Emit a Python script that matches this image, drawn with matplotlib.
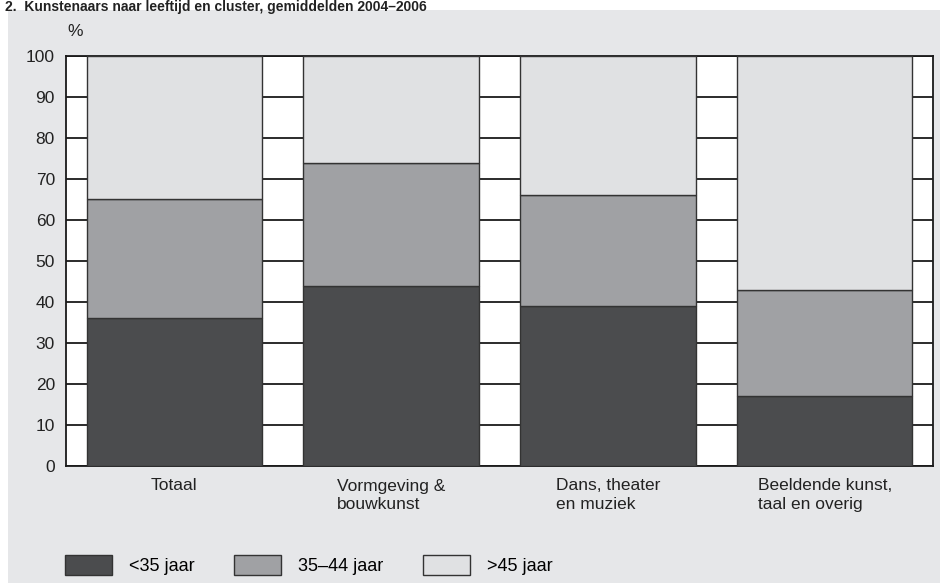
import matplotlib.pyplot as plt
import matplotlib.patches as mpatches
import numpy as np

clusters = ["Totaal", "Vormgeving &\nbouwkunst", "Dans, theater\nen muziek", "Beeldende kunst,\ntaal en overig"]
under_35 = [36, 44, 39, 17]
age_35_44 = [29, 30, 27, 26]
over_45 = [35, 26, 34, 57]
series_labels = ["<35 jaar", "35\u201344 jaar", ">45 jaar"]
colors = ["#4b4c4e", "#a0a1a4", "#e0e1e3"]
title = "2.  Kunstenaars naar leeftijd en cluster, gemiddelden 2004\u20132006"

plt.rcParams['font.family'] = ['Liberation Sans', 'DejaVu Sans']

fig = plt.figure(figsize=(9.4, 5.83), dpi=100, facecolor="white")
# grey panel behind chart
fig.patches.append(mpatches.Rectangle((8 / 940, 0), 1, 1 - 10 / 583, transform=fig.transFigure,
                                      facecolor="#e6e7e9", edgecolor="none", zorder=-5))
fig.text(5 / 940, 1 - 10.5 / 583, title, fontsize=10, fontweight="bold", va="baseline", color="#222222")

ax = fig.add_axes([66 / 940, 117 / 583, 867 / 940, 410 / 583])
ax.set_facecolor("white")

x = np.arange(len(clusters))
w = 0.81
bottom = np.zeros(len(clusters))
handles = []
for vals, col, lab in zip([under_35, age_35_44, over_45], colors, series_labels):
    b = ax.bar(x, vals, w, bottom=bottom, color=col, edgecolor="#333333", linewidth=1.0,
               label=lab, zorder=3)
    handles.append(b)
    bottom += np.array(vals)

ax.set_xlim(-0.5, 3.5)
ax.set_ylim(0, 100)
ax.set_yticks(range(0, 101, 10))
ax.yaxis.grid(True, color="#1a1a1a", linewidth=1.3)
ax.set_axisbelow(True)
ax.set_xticks(x)
ax.set_xticklabels(clusters, ha="center", multialignment="left", linespacing=1.3)
ax.tick_params(axis="both", length=0, labelsize=12.5, colors="#222222")
ax.tick_params(axis="y", pad=8)
ax.tick_params(axis="x", pad=9)
for s in ax.spines.values():
    s.set_color("#1a1a1a")
    s.set_linewidth(1.3)

fig.text(67 / 940, 1 - 31 / 583, "%", fontsize=12.5, va="center", color="#222222")

fig.legend(handles=handles, labels=series_labels, loc="center left",
           bbox_to_anchor=(65 / 940, 1 - 565 / 583), ncol=3, frameon=False, fontsize=13,
           borderpad=0, borderaxespad=0,
           handlelength=2.6, handleheight=1.33, handletextpad=0.94, columnspacing=2.2)

fig.savefig("out.png", dpi=100, facecolor="white")
